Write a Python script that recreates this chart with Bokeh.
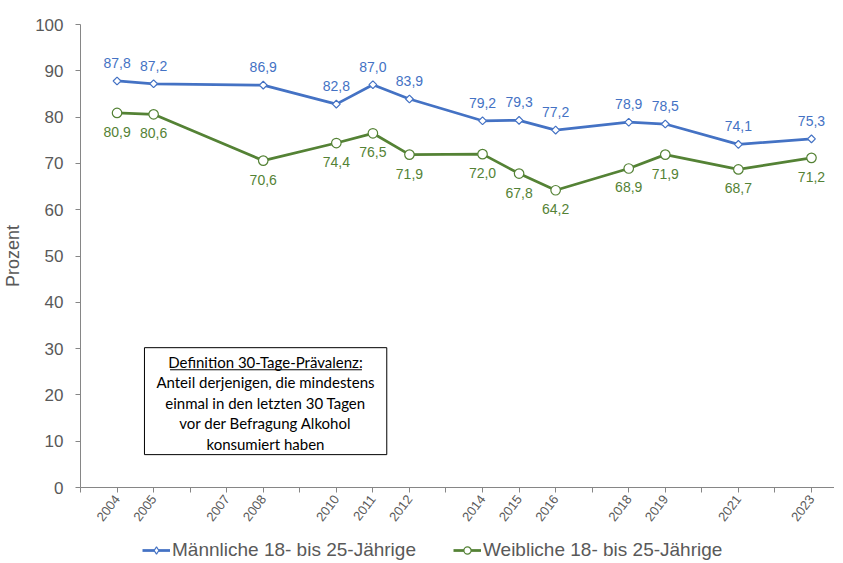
import numpy as np
from bokeh.plotting import figure
from bokeh.layouts import column
from bokeh.models import (FixedTicker, Legend, LegendItem, BoxAnnotation, Label, Range1d,
                          ColumnDataSource)
from bokeh.core.properties import value
from bokeh.embed import file_html
from bokeh.resources import INLINE

# ---- data -------------------------------------------------------------
years = [2004, 2005, 2008, 2010, 2011, 2012, 2014, 2015, 2016, 2018, 2019, 2021, 2023]
male = [87.8, 87.2, 86.9, 82.8, 87.0, 83.9, 79.2, 79.3, 77.2, 78.9, 78.5, 74.1, 75.3]
female = [80.9, 80.6, 70.6, 74.4, 76.5, 71.9, 72.0, 67.8, 64.2, 68.9, 71.9, 68.7, 71.2]
tick_years = list(range(2003, 2024))
labeled_years = [2004, 2005, 2007, 2008, 2010, 2011, 2012, 2014, 2015, 2016,
                 2018, 2019, 2021, 2023]
y_ticks = list(range(0, 101, 10))
series_names = ["Männliche 18- bis 25-Jährige", "Weibliche 18- bis 25-Jährige"]
box_title = "Definition 30-Tage-Prävalenz:"
box_lines = ["Anteil derjenigen, die mindestens",
             "einmal in den letzten 30 Tagen",
             "vor der Befragung Alkohol",
             "konsumiert haben"]

BLUE = "#4472C4"
GREEN = "#548235"
GRAY = "#595959"
AXIS = "#868686"
FONT = "Liberation Sans"


def fmt(v):
    return f"{v:.1f}".replace(".", ",")


src_m = ColumnDataSource(dict(x=years, y=male, t=[fmt(v) for v in male]))
src_f = ColumnDataSource(dict(x=years, y=female, t=[fmt(v) for v in female]))

p = figure(frame_width=754, frame_height=463,
           x_range=Range1d(2003, 2023.63), y_range=Range1d(0, 100),
           output_backend="svg", toolbar_location=None,
           min_border_left=73, min_border_top=24, min_border_right=0,
           min_border_bottom=42)
p.outline_line_color = None
p.xgrid.grid_line_color = None
p.ygrid.grid_line_color = None
p.background_fill_color = "white"
p.border_fill_color = "white"

# ---- text box ---------------------------------------------------------
p.add_layout(BoxAnnotation(left=2004.75, right=2011.38, bottom=7.1, top=30.2,
                           fill_color="white", fill_alpha=1.0,
                           line_color="black", line_width=1, line_alpha=1.0,
                           level="underlay"))
box_cx = 2008.06
box_ys = [27.2, 22.75, 18.35, 13.9, 9.5]
for txt, yy in zip([box_title] + box_lines, box_ys):
    p.add_layout(Label(x=box_cx, y=yy, text=txt, text_align="center",
                       text_baseline="middle", text_font="Lato",
                       text_font_size="15px", text_color="black"))
p.add_layout(BoxAnnotation(left=2005.45, right=2010.7, bottom=25.3, top=25.55,
                           fill_color="black", fill_alpha=1.0, line_alpha=0))

# ---- series -----------------------------------------------------------
lm = p.line("x", "y", source=src_m, line_color=BLUE, line_width=2.75)
sm = p.scatter("x", "y", source=src_m, marker="square", angle=np.pi / 4, size=5.5,
               fill_color="white", line_color=BLUE, line_width=1.2)
lf = p.line("x", "y", source=src_f, line_color=GREEN, line_width=2.75)
sf = p.scatter("x", "y", source=src_f, marker="circle", size=9.5,
               fill_color="white", line_color=GREEN, line_width=1.2)

p.text("x", "y", text="t", source=src_m, y_offset=-18, text_align="center",
       text_baseline="middle", text_font=value(FONT), text_font_size="14px",
       text_color=BLUE)
p.text("x", "y", text="t", source=src_f, y_offset=19, text_align="center",
       text_baseline="middle", text_font=value(FONT), text_font_size="14px",
       text_color=GREEN)

# ---- axes -------------------------------------------------------------
xa = p.xaxis[0]
xa.ticker = FixedTicker(ticks=tick_years)
xa.major_label_overrides = {y: (str(y) if y in labeled_years else "") for y in tick_years}
xa.major_label_orientation = 0.92
xa.major_label_text_font = FONT
xa.major_label_text_font_size = "13px"
xa.major_label_text_color = GRAY
xa.axis_line_color = AXIS
xa.major_tick_line_color = AXIS
xa.major_tick_out = 5
xa.major_tick_in = 0
xa.minor_tick_line_color = None
xa.major_label_standoff = 4

ya = p.yaxis[0]
ya.ticker = FixedTicker(ticks=y_ticks)
ya.major_label_text_font = FONT
ya.major_label_text_font_size = "17px"
ya.major_label_text_color = GRAY
ya.axis_line_color = AXIS
ya.major_tick_line_color = AXIS
ya.major_tick_out = 5
ya.major_tick_in = 0
ya.minor_tick_line_color = None
ya.major_label_standoff = 12
ya.axis_label = "Prozent"
ya.axis_label_text_font = FONT
ya.axis_label_text_font_size = "18px"
ya.axis_label_text_font_style = "normal"
ya.axis_label_text_color = GRAY
ya.axis_label_standoff = 9

# ---- legend (own strip below the chart) --------------------------------
# the strip's ranges (0..1) keep the series glyphs out of view; only the
# legend entries that use their styles are shown
lg = figure(width=827, height=32, x_range=Range1d(0, 1), y_range=Range1d(0, 1),
            x_axis_type=None, y_axis_type=None, output_backend="svg",
            toolbar_location=None, min_border=0)
lg.outline_line_color = None
lg.xgrid.grid_line_color = None
lg.ygrid.grid_line_color = None
glm = lg.line("x", "y", source=src_m, line_color=BLUE, line_width=2.75)
gsm = lg.scatter("x", "y", source=src_m, marker="diamond", size=10,
                 fill_color="white", line_color=BLUE, line_width=1.2)
glf = lg.line("x", "y", source=src_f, line_color=GREEN, line_width=2.75)
gsf = lg.scatter("x", "y", source=src_f, marker="circle", size=9.5,
                 fill_color="white", line_color=GREEN, line_width=1.2)
legend = Legend(items=[LegendItem(label=series_names[0], renderers=[glm, gsm]),
                       LegendItem(label=series_names[1], renderers=[glf, gsf])],
                orientation="horizontal", location=(62, 0),
                label_text_font=FONT, label_text_font_size="19px",
                label_text_color=GRAY, glyph_width=28, glyph_height=18,
                label_height=19,
                label_standoff=2, spacing=37, padding=0, margin=0,
                border_line_color=None, background_fill_alpha=0)
lg.add_layout(legend)

open("out.html", "w").write(file_html(column(p, lg), INLINE))
